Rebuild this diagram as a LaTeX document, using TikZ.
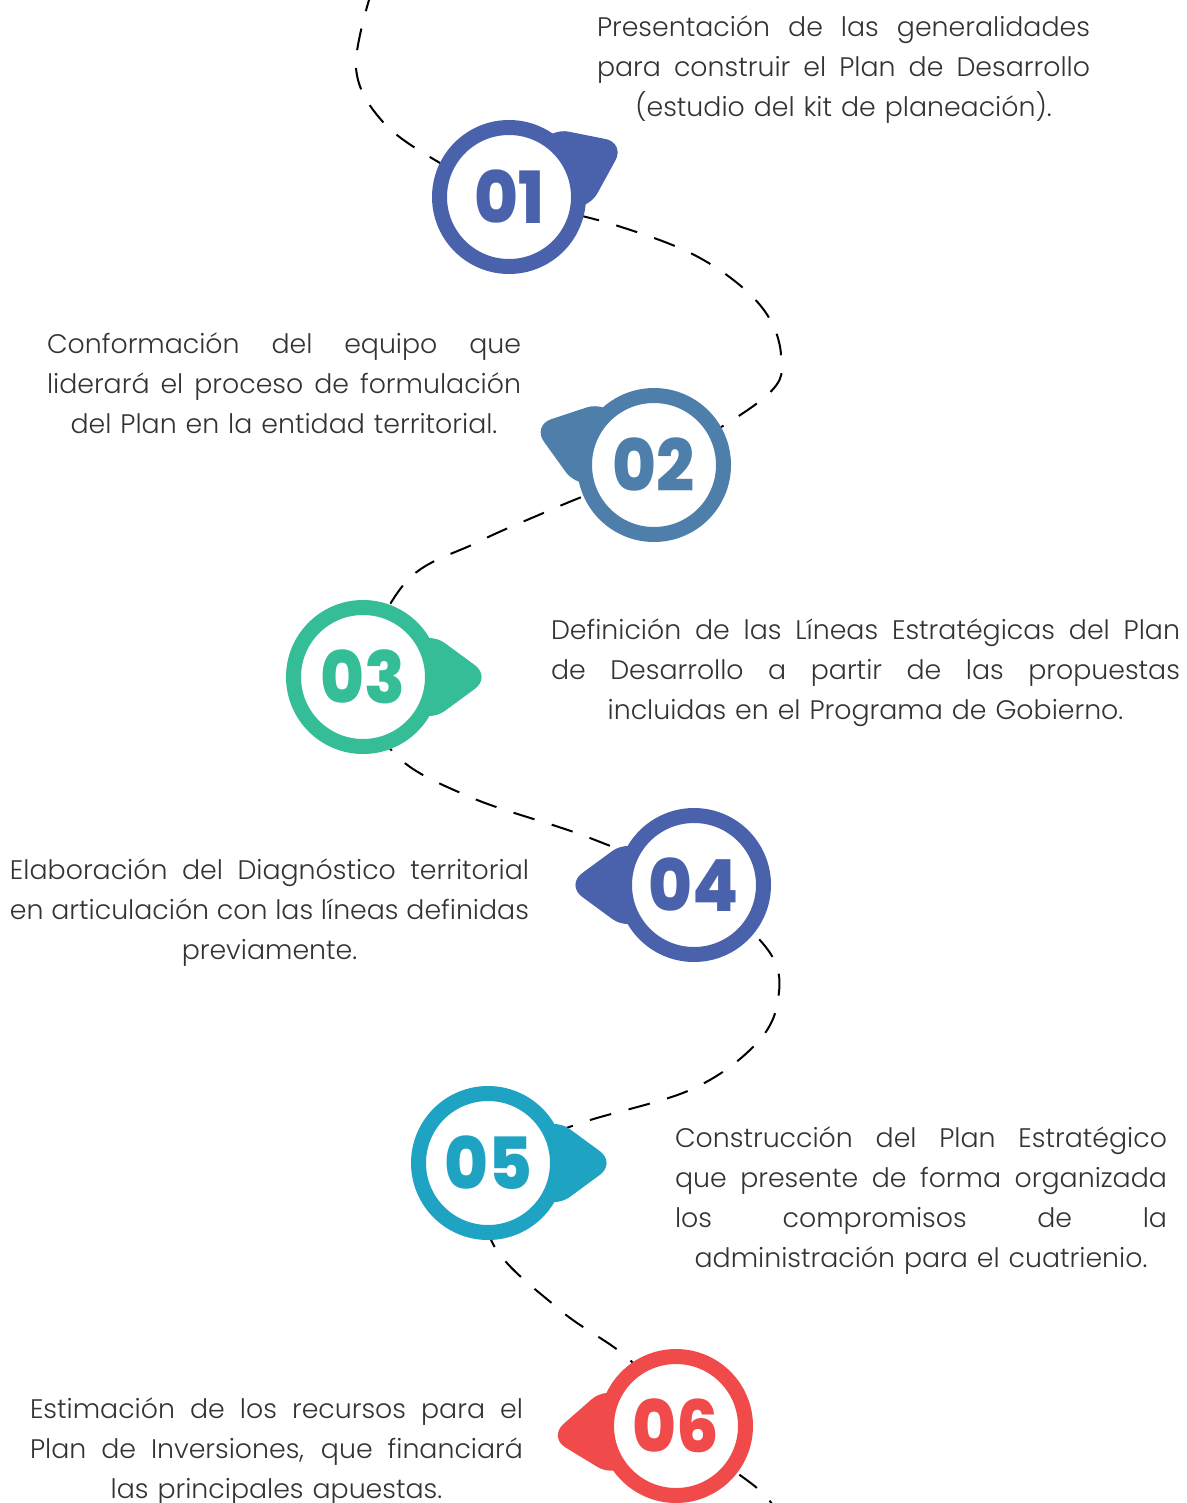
\documentclass[tikz,border=0pt]{standalone}
\usepackage{fontspec}
\setmainfont{Poppins}[UprightFont=* Light]
\newfontfamily\numfont{Poppins}[UprightFont=* ExtraBold, FakeStretch=0.93]
\usetikzlibrary{calc}

\definecolor{azul}{HTML}{4A62AC}
\definecolor{acero}{HTML}{4E7FAA}
\definecolor{verde}{HTML}{34BD96}
\definecolor{cian}{HTML}{1FA3C2}
\definecolor{rojo}{HTML}{F04A4A}
\definecolor{texto}{HTML}{333333}

% one justified line of a text block
\newcommand{\jl}[1]{\leavevmode\hbox to \hsize{\spaceskip=\fontdimen2\font plus 1fil minus .4\fontdimen2\font\relax #1}}

\begin{document}
\begin{tikzpicture}[x=0.5pt,y=-0.5pt,
  trail/.style={line width=1pt, dash pattern=on 11pt off 9pt},
  pointer/.style={fill=#1, rounded corners=10pt},
  ring/.style={circle, draw=#1, fill=white, line width=7.5pt, minimum size=69.5pt,
    inner sep=0pt, text=#1, font=\numfont\fontsize{36}{36}\selectfont},
  txt/.style={inner sep=0pt, align=center, text=texto, font=\fontsize{13.4}{20}\selectfont}]
  \useasboundingbox (0,0) rectangle (1187,1503);

  % centres of the steps
  \coordinate (c1) at (509,197);
  \coordinate (c2) at (654,465);
  \coordinate (c3) at (363,677);
  \coordinate (c4) at (694,885);
  \coordinate (c5) at (488,1163);
  \coordinate (c6) at (676,1426);

  % dashed trail behind the steps
  \draw[trail] plot[smooth, tension=0.6] coordinates {(372,-10) (356,68) (383,122) (440,163) (c1)
    (615,225) (700,258) (760,305) (781,355) (765,397) (c2)
    (555,508) (478,542) (405,583) (c3)
    (393,752) (470,797) (590,838) (c4)
    (768,950) (778,1000) (755,1045) (690,1090) (575,1125) (c5)
    (492,1242) (560,1310) (632,1362) (c6)
    (757,1488) (775,1510)};

  % pointers
  \fill[pointer=azul] ($(c1)+(-25+35:80)$) -- ($(c1)+(-25:128)$) -- ($(c1)+(-25-35:80)$) -- (c1) -- cycle;
  \fill[pointer=acero] ($(c2)+(198+35:80)$) -- ($(c2)+(198:128)$) -- ($(c2)+(198-35:80)$) -- (c2) -- cycle;
  \fill[pointer=verde] ($(c3)+(35:80)$) -- ($(c3)+(0:128)$) -- ($(c3)+(-35:80)$) -- (c3) -- cycle;
  \fill[pointer=azul] ($(c4)+(180+35:80)$) -- ($(c4)+(180:128)$) -- ($(c4)+(180-35:80)$) -- (c4) -- cycle;
  \fill[pointer=cian] ($(c5)+(35:80)$) -- ($(c5)+(0:128)$) -- ($(c5)+(-35:80)$) -- (c5) -- cycle;
  \fill[pointer=rojo] ($(c6)+(175+35:80)$) -- ($(c6)+(175:128)$) -- ($(c6)+(175-35:80)$) -- (c6) -- cycle;

  % rings with numbers
  \node[ring=azul] (s1) at (c1) {01};
  \node[ring=acero] (s2) at (c2) {02};
  \node[ring=verde] (s3) at (c3) {03};
  \node[ring=azul] (s4) at (c4) {04};
  \node[ring=cian] (s5) at (c5) {05};
  \node[ring=rojo] (s6) at (c6) {06};

  % texts
  \node[txt, text width=246.5pt] (t1) at (843.5,70)
    {\jl{Presentación de las generalidades}\\ \jl{para construir el Plan de Desarrollo}\\ (estudio del kit de planeación).};
  \node[txt, text width=237pt] (t2) at (284,383)
    {\jl{Conformación del equipo que}\\ \jl{liderará el proceso de formulación}\\ del Plan en la entidad territorial.};
  \node[txt, text width=314.5pt] (t3) at (865.5,673)
    {\jl{Definición de las Líneas Estratégicas del Plan}\\ \jl{de Desarrollo a partir de las propuestas}\\ incluidas en el Programa de Gobierno.};
  \node[txt, text width=259.5pt] (t4) at (269.5,913)
    {\jl{Elaboración del Diagnóstico territorial}\\ \jl{en articulación con las líneas definidas}\\ previamente.};
  \node[txt, text width=246pt] (t5) at (921,1201)
    {\jl{Construcción del Plan Estratégico}\\ \jl{que presente de forma organizada}\\ \jl{los compromisos de la}\\ administración para el cuatrienio.};
  \node[txt, text width=246.5pt] (t6) at (276.5,1452)
    {\jl{Estimación de los recursos para el}\\ \jl{Plan de Inversiones, que financiará}\\ las principales apuestas.};
\end{tikzpicture}
\end{document}
